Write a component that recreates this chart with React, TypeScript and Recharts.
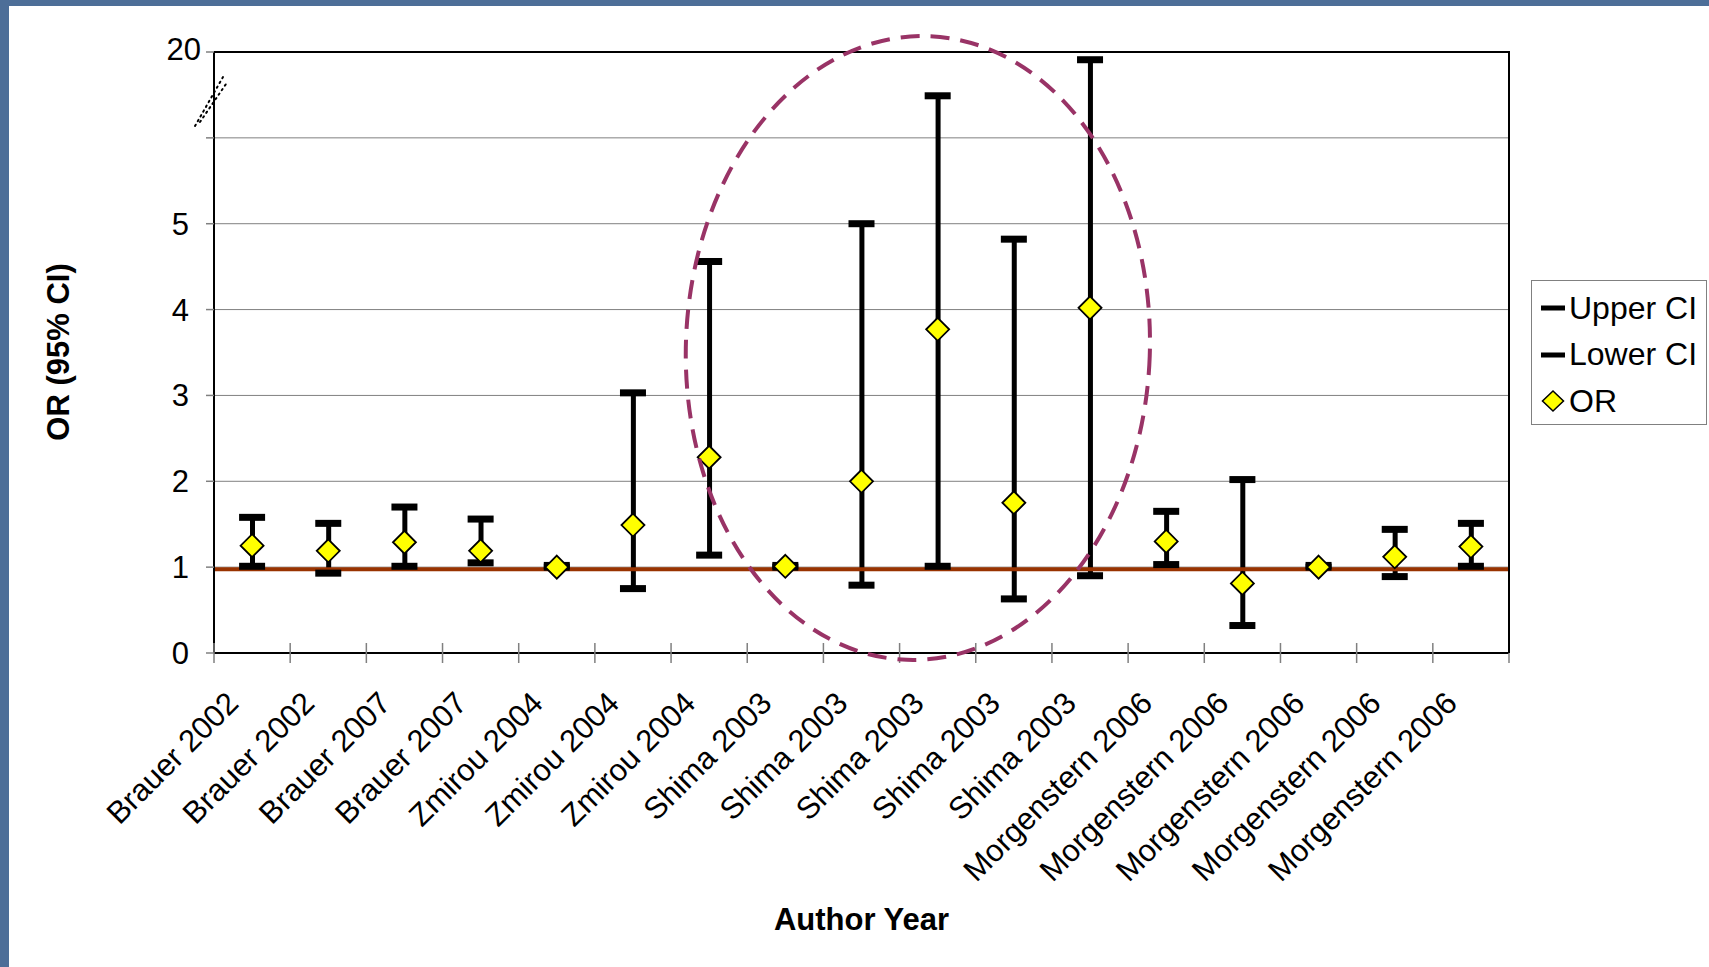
import React from "react";
import {
  ComposedChart,
  Bar,
  Line,
  XAxis,
  YAxis,
  CartesianGrid,
  ReferenceLine,
} from "recharts";

// Study labels along the x axis
const categories: string[] = [
  "Brauer 2002",
  "Brauer 2002",
  "Brauer 2007",
  "Brauer 2007",
  "Zmirou 2004",
  "Zmirou 2004",
  "Zmirou 2004",
  "Shima 2003",
  "Shima 2003",
  "Shima 2003",
  "Shima 2003",
  "Shima 2003",
  "Morgenstern 2006",
  "Morgenstern 2006",
  "Morgenstern 2006",
  "Morgenstern 2006",
  "Morgenstern 2006",
];

// Values in axis units (the axis is broken above 5: position 7 is labelled 20)
const upperCI: number[] = [1.58, 1.51, 1.7, 1.56, 1.02, 3.03, 4.56, 1.02, 5.0, 6.49, 4.82, 6.91, 1.65, 2.02, 1.02, 1.44, 1.51];
const lowerCI: number[] = [1.01, 0.93, 1.01, 1.05, 1.0, 0.75, 1.14, 1.0, 0.79, 1.01, 0.63, 0.9, 1.03, 0.32, 1.0, 0.89, 1.01];
const oddsRatio: number[] = [1.25, 1.19, 1.29, 1.19, 1.0, 1.49, 2.28, 1.01, 2.0, 3.77, 1.75, 4.02, 1.3, 0.81, 1.0, 1.12, 1.24];

const yTickValues: number[] = [0, 1, 2, 3, 4, 5, 6, 7];
const yTickLabels: string[] = ["0", "1", "2", "3", "4", "5", "", "20"];
const nullLine = 0.975;

const seriesNames = { upper: "Upper CI", lower: "Lower CI", or: "OR" };

const data = categories.map((name, i) => ({
  name,
  upper: upperCI[i],
  lower: lowerCI[i],
  or: oddsRatio[i],
  range: [lowerCI[i], upperCI[i]],
}));

// layout
const W = 1709;
const H = 967;
const PLOT_L = 214;
const PLOT_T = 52;
const PLOT_R = 1509;
const PLOT_B = 653;
const Y_AXIS_W = 100;
const X_AXIS_H = 150;
const BAND = (PLOT_R - PLOT_L) / categories.length;
const FONT = '"Liberation Sans", Arial, sans-serif';

const XTick = (props: any) => {
  const { x, y, payload, index } = props;
  const i = index ?? payload.index;
  const half = BAND / 2;
  return (
    <g>
      <line x1={x - half} x2={x - half} y1={y - 10} y2={y + 10} stroke="#808080" strokeWidth={1.5} />
      {i === categories.length - 1 && (
        <line x1={x + half} x2={x + half} y1={y - 10} y2={y + 10} stroke="#808080" strokeWidth={1.5} />
      )}
      <text
        x={0}
        y={0}
        transform={`translate(${x - 12},${y + 52}) rotate(-45)`}
        textAnchor="end"
        fontSize={31}
        fontFamily={FONT}
        fill="#000"
      >
        {payload.value}
      </text>
    </g>
  );
};

const YTick = (props: any) => {
  const { x, y, payload } = props;
  const label = yTickLabels[yTickValues.indexOf(payload.value)];
  if (!label) return <g />;
  const isTop = payload.value === yTickValues[yTickValues.length - 1];
  return (
    <text
      x={isTop ? x + 12 : x}
      y={isTop ? y - 3 : y}
      dy="0.355em"
      textAnchor="end"
      fontSize={31}
      fontFamily={FONT}
      fill="#000"
    >
      {label}
    </text>
  );
};

const CapDot = (props: any) => {
  const { cx, cy, index } = props;
  if (cx == null || cy == null) return <g key={`c-${index}`} />;
  return <rect key={`c-${index}`} x={cx - 13} y={cy - 3.5} width={26} height={7} fill="#000" />;
};

const DiamondDot = (props: any) => {
  const { cx, cy, index } = props;
  if (cx == null || cy == null) return <g key={`d-${index}`} />;
  const r = 11.5;
  return (
    <polygon
      key={`d-${index}`}
      points={`${cx},${cy - r} ${cx + r},${cy} ${cx},${cy + r} ${cx - r},${cy}`}
      fill="#FFFF00"
      stroke="#000"
      strokeWidth={1.8}
    />
  );
};

const legendRows = [
  { name: seriesNames.upper, icon: "dash" },
  { name: seriesNames.lower, icon: "dash" },
  { name: seriesNames.or, icon: "diamond" },
];

const ELLIPSE_CX = PLOT_L + BAND * 9.24;

const App: React.FC = () => (
  <div
    style={{
      position: "fixed",
      left: 0,
      top: 0,
      width: W,
      height: H,
      background: "#4d6e98",
      overflow: "hidden",
      fontFamily: FONT,
    }}
  >
    <div style={{ position: "absolute", left: 9, top: 6, width: W - 9, height: H - 6, background: "#fff" }} />
    <div style={{ position: "absolute", left: 0, top: 0 }}>
      <ComposedChart
        width={W}
        height={H}
        data={data}
        margin={{ top: PLOT_T, left: PLOT_L - Y_AXIS_W, right: W - PLOT_R, bottom: H - PLOT_B - X_AXIS_H }}
      >
        <CartesianGrid vertical={false} stroke="#808080" strokeWidth={1} />
        <XAxis
          dataKey="name"
          interval={0}
          height={X_AXIS_H}
          tickLine={false}
          tickSize={0}
          tickMargin={0}
          axisLine={{ stroke: "#000", strokeWidth: 2 }}
          tick={<XTick />}
        />
        <YAxis
          type="number"
          domain={[0, 7]}
          ticks={yTickValues}
          interval={0}
          allowDataOverflow
          width={Y_AXIS_W}
          tickSize={8}
          tickMargin={17}
          axisLine={{ stroke: "#000", strokeWidth: 2 }}
          tickLine={{ stroke: "#808080", strokeWidth: 1.5 }}
          tick={<YTick />}
        />
        <Bar dataKey="range" barSize={5} fill="#000" legendType="none" isAnimationActive={false} />
        <Line
          dataKey="upper"
          name={seriesNames.upper}
          stroke="none"
          dot={(p: any) => <CapDot key={`u-${p.index}`} {...p} />}
          activeDot={false}
          isAnimationActive={false}
        />
        <Line
          dataKey="lower"
          name={seriesNames.lower}
          stroke="none"
          dot={(p: any) => <CapDot key={`l-${p.index}`} {...p} />}
          activeDot={false}
          isAnimationActive={false}
        />
        <Line
          dataKey="or"
          name={seriesNames.or}
          stroke="none"
          dot={(p: any) => <DiamondDot key={`o-${p.index}`} {...p} />}
          activeDot={false}
          isAnimationActive={false}
        />
        <ReferenceLine y={nullLine} stroke="#993300" strokeWidth={4} />
      </ComposedChart>
    </div>

    {/* plot frame, axis break, highlight ellipse and axis titles */}
    <svg
      width={W}
      height={H}
      style={{ position: "absolute", left: 0, top: 0, pointerEvents: "none" }}
    >
      <line x1={PLOT_L} x2={PLOT_R + 1} y1={PLOT_T} y2={PLOT_T} stroke="#000" strokeWidth={2} />
      <line x1={PLOT_R} x2={PLOT_R} y1={PLOT_T} y2={PLOT_B} stroke="#000" strokeWidth={2} />
      <line x1={195} y1={126} x2={223} y2={77} stroke="#000" strokeWidth={2} strokeDasharray="1.5 4" strokeLinecap="round" />
      <line x1={200} y1={122} x2={226} y2={84} stroke="#000" strokeWidth={2} strokeDasharray="1.5 4" strokeLinecap="round" />
      <ellipse
        cx={ELLIPSE_CX}
        cy={348}
        rx={232}
        ry={312}
        transform={`rotate(2 ${ELLIPSE_CX} 348)`}
        fill="none"
        stroke="#993366"
        strokeWidth={4}
        strokeDasharray="19 11"
      />
      <text
        x={58}
        y={352}
        transform="rotate(-90 58 352)"
        textAnchor="middle"
        dominantBaseline="central"
        fontSize={31}
        fontWeight="bold"
        fontFamily={FONT}
      >
        OR (95% CI)
      </text>
      <text x={(PLOT_L + PLOT_R) / 2} y={919} textAnchor="middle" dominantBaseline="central" fontSize={31} fontWeight="bold" fontFamily={FONT}>
        Author Year
      </text>
    </svg>

    <div
      style={{
        position: "absolute",
        left: 1531,
        top: 280,
        width: 176,
        height: 145,
        boxSizing: "border-box",
        border: "1.5px solid #808080",
        background: "#fff",
      }}
    >
      {legendRows.map((row, i) => (
        <div
          key={row.name}
          style={{
            position: "absolute",
            left: 0,
            top: 4 + i * 46.5,
            height: 46,
            display: "flex",
            alignItems: "center",
            fontSize: 32,
            whiteSpace: "nowrap",
          }}
        >
          <svg width={36} height={24} style={{ marginLeft: 6 }}>
            {row.icon === "dash" ? (
              <rect x={3} y={9.5} width={24} height={5} fill="#000" />
            ) : (
              <polygon points="15,2 25.5,12 15,22 4.5,12" fill="#FFFF00" stroke="#000" strokeWidth={1.5} />
            )}
          </svg>
          <span style={{ marginLeft: -5 }}>{row.name}</span>
        </div>
      ))}
    </div>
  </div>
);

export default App;
